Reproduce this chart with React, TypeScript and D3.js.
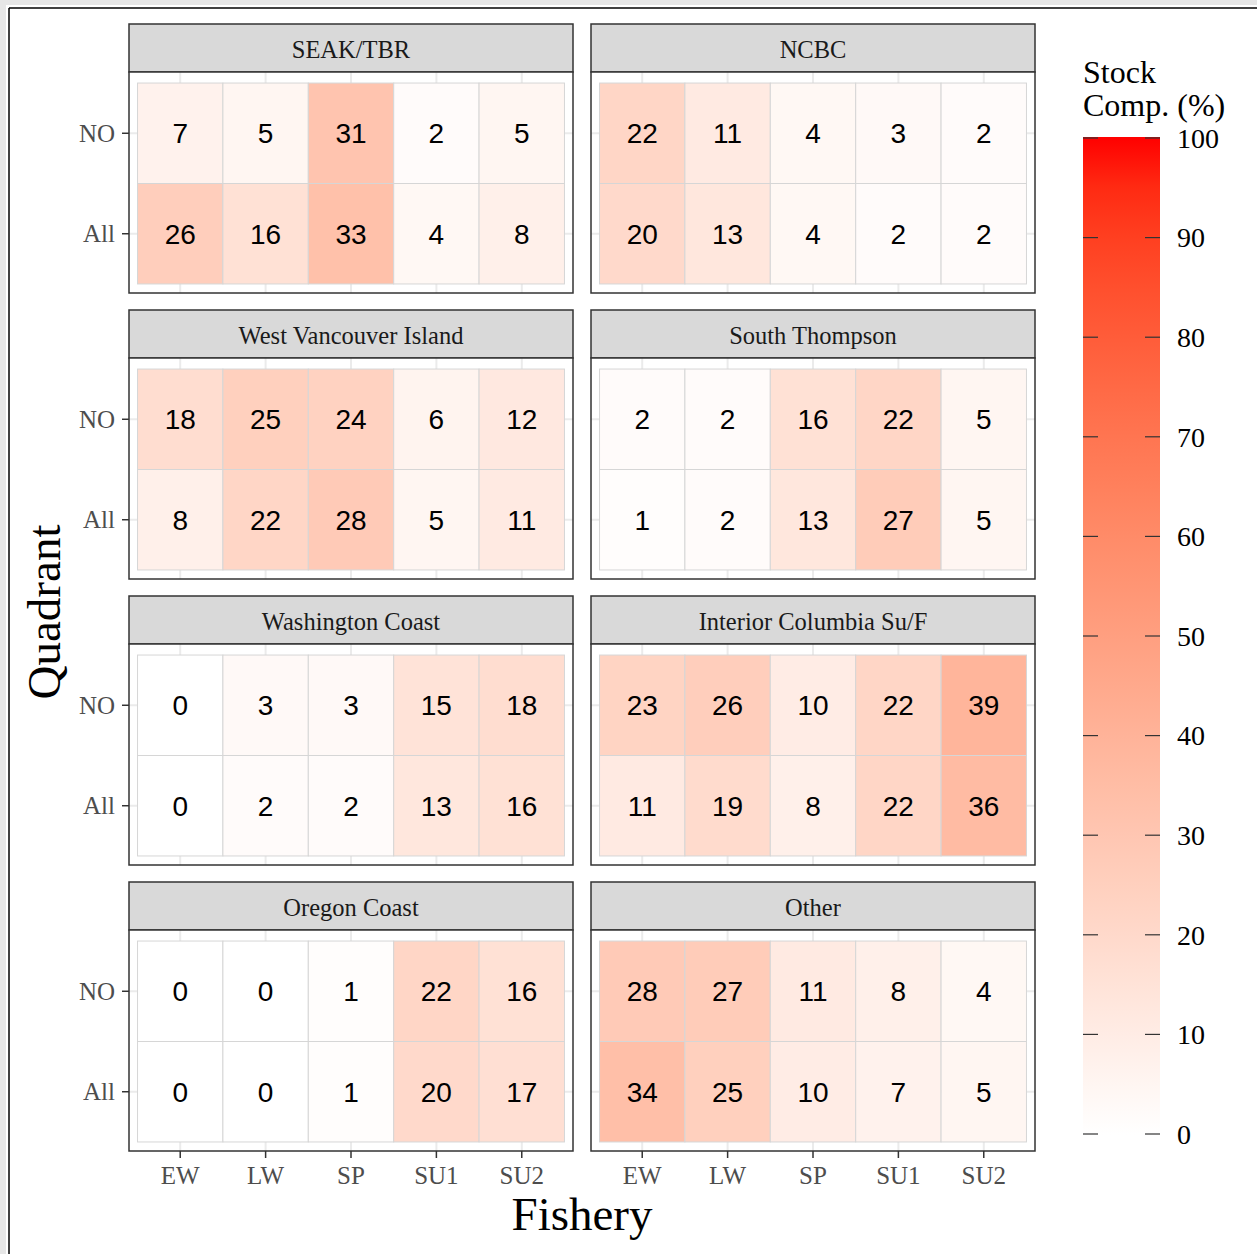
import React from "react";
import * as d3 from "d3";

const fisheries = ["EW", "LW", "SP", "SU1", "SU2"];
const quadrants = ["NO", "All"];
const stocks = [
  "SEAK/TBR",
  "NCBC",
  "West Vancouver Island",
  "South Thompson",
  "Washington Coast",
  "Interior Columbia Su/F",
  "Oregon Coast",
  "Other",
];
// values[stock] = [NO row, All row]
const seakValues = [[7, 5, 31, 2, 5], [26, 16, 33, 4, 8]];
const ncbcValues = [[22, 11, 4, 3, 2], [20, 13, 4, 2, 2]];
const wviValues = [[18, 25, 24, 6, 12], [8, 22, 28, 5, 11]];
const sthomValues = [[2, 2, 16, 22, 5], [1, 2, 13, 27, 5]];
const waValues = [[0, 3, 3, 15, 18], [0, 2, 2, 13, 16]];
const icolValues = [[23, 26, 10, 22, 39], [11, 19, 8, 22, 36]];
const orValues = [[0, 0, 1, 22, 16], [0, 0, 1, 20, 17]];
const otherValues = [[28, 27, 11, 8, 4], [34, 25, 10, 7, 5]];
const allValues = [seakValues, ncbcValues, wviValues, sthomValues, waValues, icolValues, orValues, otherValues];
const legendTicks = [0, 10, 20, 30, 40, 50, 60, 70, 80, 90, 100];

const W = 1257;
const H = 1254;
const colLeft = [129, 591];
const panelW = 444;
const rowTop = [24, 310, 596, 882];
const stripH = 48;
const panelH = 221;

const serif = "'Liberation Serif', 'Times New Roman', serif";
const sans = "'Liberation Sans', Arial, sans-serif";

const color = (v: number) => d3.interpolateLab("#FFFFFF", "#FF0000")(Math.max(0, Math.min(100, v)) / 100);

export default function App() {
  const x = d3.scaleLinear().domain([0.4, 5.6]).range([0, panelW]);
  const y = d3.scaleLinear().domain([0.4, 2.6]).range([1, panelH + 1]);

  const barX = 1083, barW = 77, barTop = 138, barBot = 1134;
  const ly = d3.scaleLinear().domain([0, 100]).range([barBot, barTop]);
  const stops = d3.range(0, 101, 5);

  return (
    <svg width={W} height={H} style={{ position: "absolute", left: 0, top: 0, background: "#fff" }}>
      <defs>
        <linearGradient id="lg" x1="0" y1="1" x2="0" y2="0">
          {stops.map((s) => (
            <stop key={s} offset={`${s}%`} stopColor={color(s)} />
          ))}
        </linearGradient>
      </defs>
      <rect x={0} y={0} width={W} height={H} fill="#fff" />
      <rect x={0} y={0} width={W} height={5} fill="#E6E6E6" />
      <rect x={0} y={0} width={6} height={H} fill="#E6E6E6" />
      <line x1={9} y1={8} x2={9} y2={H} stroke="#000" strokeWidth={1.5} />
      <line x1={9} y1={8} x2={W} y2={8} stroke="#000" strokeWidth={1.5} />

      {stocks.map((name, i) => {
        const col = i % 2;
        const row = Math.floor(i / 2);
        const px = colLeft[col];
        const sy = rowTop[row];
        const py = sy + stripH;
        const vals = allValues[i];
        return (
          <g key={name}>
            {/* strip */}
            <rect x={px} y={sy} width={panelW} height={stripH} fill="#D9D9D9" stroke="#333333" strokeWidth={1.5} />
            <text x={px + panelW / 2} y={sy + stripH / 2 + 1} dy="0.35em" textAnchor="middle" fontFamily={serif} fontSize={24.5} fill="#1A1A1A">
              {name}
            </text>
            <g transform={`translate(${px},${py})`}>
              <rect x={0} y={0} width={panelW} height={panelH} fill="#fff" />
              {fisheries.map((f, j) => (
                <line key={f} x1={x(j + 1)} x2={x(j + 1)} y1={0} y2={panelH} stroke="#EBEBEB" strokeWidth={2} />
              ))}
              {quadrants.map((q, k) => (
                <line key={q} x1={0} x2={panelW} y1={y(k + 1)} y2={y(k + 1)} stroke="#EBEBEB" strokeWidth={2} />
              ))}
              {quadrants.map((q, k) =>
                fisheries.map((f, j) => {
                  const v = vals[k][j];
                  return (
                    <g key={q + f}>
                      <rect
                        x={x(j + 0.5)}
                        y={y(k + 0.5)}
                        width={x(j + 1.5) - x(j + 0.5)}
                        height={y(k + 1.5) - y(k + 0.5)}
                        fill={color(v)}
                        stroke="#D6D6D6"
                        strokeWidth={1}
                      />
                      <text x={x(j + 1)} y={y(k + 1)} dy="0.36em" textAnchor="middle" fontFamily={sans} fontSize={28} fill="#000">
                        {v}
                      </text>
                    </g>
                  );
                })
              )}
              <rect x={0} y={0} width={panelW} height={panelH} fill="none" stroke="#333333" strokeWidth={1.5} />
              {/* y axis ticks on left column */}
              {col === 0 &&
                quadrants.map((q, k) => (
                  <g key={"yt" + q}>
                    <line x1={-7} x2={0} y1={y(k + 1)} y2={y(k + 1)} stroke="#333333" strokeWidth={1.5} />
                    <text x={-14} y={y(k + 1)} dy="0.35em" textAnchor="end" fontFamily={serif} fontSize={25} fill="#4D4D4D">
                      {q}
                    </text>
                  </g>
                ))}
              {row === 3 &&
                fisheries.map((f, j) => (
                  <g key={"xt" + f}>
                    <line x1={x(j + 1)} x2={x(j + 1)} y1={panelH} y2={panelH + 7} stroke="#333333" strokeWidth={1.5} />
                    <text x={x(j + 1)} y={panelH + 24} dy="0.35em" textAnchor="middle" fontFamily={serif} fontSize={25} fill="#4D4D4D">
                      {f}
                    </text>
                  </g>
                ))}
            </g>
          </g>
        );
      })}

      {/* axis titles */}
      <text x={582} y={1230} textAnchor="middle" fontFamily={serif} fontSize={47} fill="#000">
        Fishery
      </text>
      <text transform="translate(60,612) rotate(-90)" textAnchor="middle" fontFamily={serif} fontSize={47} fill="#000">
        Quadrant
      </text>

      {/* legend */}
      <text x={barX} y={83} fontFamily={serif} fontSize={32} fill="#000">Stock</text>
      <text x={barX} y={116} fontFamily={serif} fontSize={32} fill="#000">Comp. (%)</text>
      <rect x={barX} y={barTop - 1} width={barW} height={barBot - barTop + 2} fill="url(#lg)" />
      {legendTicks.map((t) => (
        <g key={t}>
          <line x1={barX} x2={barX + 15} y1={ly(t)} y2={ly(t)} stroke="#333" strokeWidth={1.2} />
          <line x1={barX + barW - 15} x2={barX + barW} y1={ly(t)} y2={ly(t)} stroke="#333" strokeWidth={1.2} />
          <text x={barX + barW + 17} y={ly(t)} dy="0.35em" fontFamily={serif} fontSize={28} fill="#000">
            {t}
          </text>
        </g>
      ))}
    </svg>
  );
}
